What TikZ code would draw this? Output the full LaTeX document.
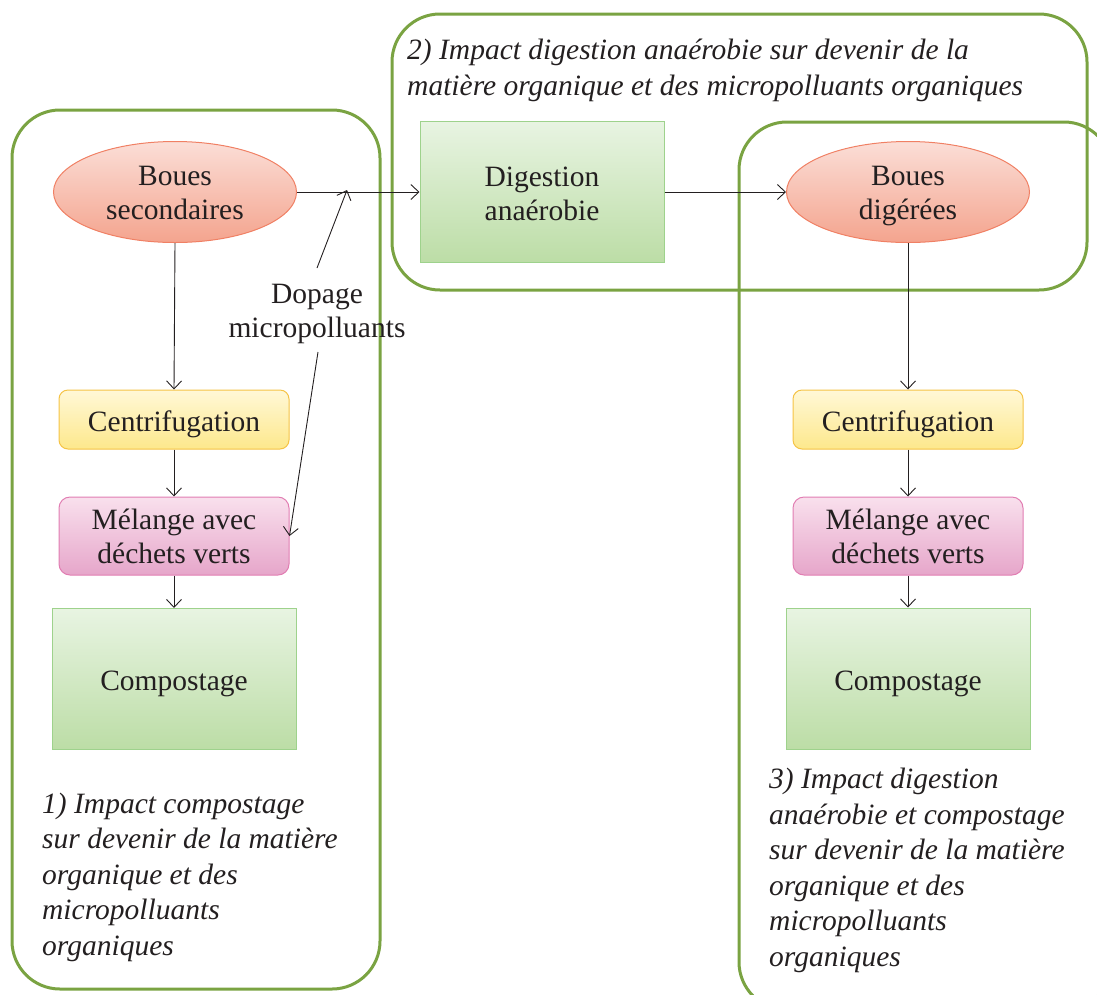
\documentclass[tikz,border=0pt]{standalone}
\usepackage{fontspec}
\setmainfont{Liberation Serif}
\usetikzlibrary{arrows.meta,shapes.geometric}
\definecolor{grpline}{RGB}{122,163,66}
\definecolor{elltop}{RGB}{251,222,215}
\definecolor{ellbot}{RGB}{244,164,142}
\definecolor{elldraw}{RGB}{240,128,100}
\definecolor{grtop}{RGB}{232,244,226}
\definecolor{grbot}{RGB}{188,221,166}
\definecolor{grdraw}{RGB}{158,210,140}
\definecolor{yetop}{RGB}{255,248,215}
\definecolor{yebot}{RGB}{253,232,140}
\definecolor{yedraw}{RGB}{245,195,70}
\definecolor{pitop}{RGB}{249,224,237}
\definecolor{pibot}{RGB}{230,166,202}
\definecolor{pidraw}{RGB}{225,125,178}
\definecolor{txt}{RGB}{35,31,32}
\newcommand{\lowerby}[2]{\raisebox{-#1}[\height][\depth]{\begin{tabular}{@{}c@{}}#2\end{tabular}}}
\tikzset{
  base/.style={font=\fontsize{29.5}{34}\selectfont, text=txt, align=center, inner sep=0pt},
  ellnode/.style={base, ellipse, draw=elldraw, line width=1pt, top color=elltop, bottom color=ellbot, minimum width=243pt, minimum height=101pt},
  greenbox/.style={base, rectangle, draw=grdraw, line width=1pt, top color=grtop, bottom color=grbot, minimum width=244pt, minimum height=141pt},
  yellowbox/.style={base, rectangle, rounded corners=9pt, draw=yedraw, line width=1pt, top color=yetop, bottom color=yebot, minimum width=230pt, minimum height=59pt},
  pinkbox/.style={base, rectangle, rounded corners=11pt, draw=pidraw, line width=1pt, top color=pitop, bottom color=pibot, minimum width=230pt, minimum height=78pt},
  group/.style={draw=grpline, line width=3pt, rounded corners=48pt},
  note/.style={font=\fontsize{29.5}{35.5}\selectfont\itshape, text=txt, align=left, inner sep=0pt},
  conn/.style={draw=txt, line width=0.9pt, -{Straight Barb[length=8pt, width=15pt, line width=0.9pt]}},
  plain/.style={base}
}
\begin{document}
\begin{tikzpicture}[x=1pt,y=-1pt]
\useasboundingbox (0,0) rectangle (1097,994);
\begin{scope}
\clip (0,0) rectangle (1097,994);
\draw[group] (12,110) rectangle (380,989);
\draw[group] (392,14) rectangle (1087,290);
\draw[group] (739,122) rectangle (1112,1010);
\end{scope}

\node[ellnode] (bs) at (175,192) {\lowerby{4pt}{Boues\\secondaires}};
\node[greenbox] (da) at (542,192) {\lowerby{5pt}{Digestion\\anaérobie}};
\node[ellnode] (bd) at (908,192) {\lowerby{4pt}{Boues\\digérées}};

\node[yellowbox] (c1) at (174,419.5) {\lowerby{5pt}{Centrifugation}};
\node[pinkbox] (m1) at (174,536) {Mélange avec\\déchets verts};
\node[greenbox] (k1) at (174,679) {\lowerby{5pt}{Compostage}};

\node[yellowbox] (c2) at (908,419.5) {\lowerby{5pt}{Centrifugation}};
\node[pinkbox] (m2) at (908,536) {Mélange avec\\déchets verts};
\node[greenbox] (k2) at (908,678.5) {\lowerby{5pt}{Compostage}};

\node[plain] (dop) at (317,314) {Dopage\\micropolluants};

\coordinate (j) at (347,190);

\draw[conn] (bs.east) -- (da.west);
\draw[conn] (da.east) -- (bd.west);
\draw[conn] (bs.south) -- (c1.north);
\draw[conn] (c1.south) -- (m1.north);
\draw[conn] (m1.south) -- (k1.north);
\draw[conn] (bd.south) -- (c2.north);
\draw[conn] (c2.south) -- (m2.north);
\draw[conn] (m2.south) -- (k2.north);
\draw[conn] (317,268) -- (j);
\draw[conn] (318,352) -- (m1.east);

\node[note, anchor=base west] (n2) at (407,95) {2) Impact digestion anaérobie sur devenir de la\\matière organique et des micropolluants organiques};
\node[note, anchor=base west] (n1) at (42,955) {1) Impact compostage\\sur devenir de la matière\\organique et des\\micropolluants\\organiques};
\node[note, anchor=base west] (n3) at (769,966) {3) Impact digestion\\anaérobie et compostage\\sur devenir de la matière\\organique et des\\micropolluants\\organiques};
\end{tikzpicture}
\end{document}
